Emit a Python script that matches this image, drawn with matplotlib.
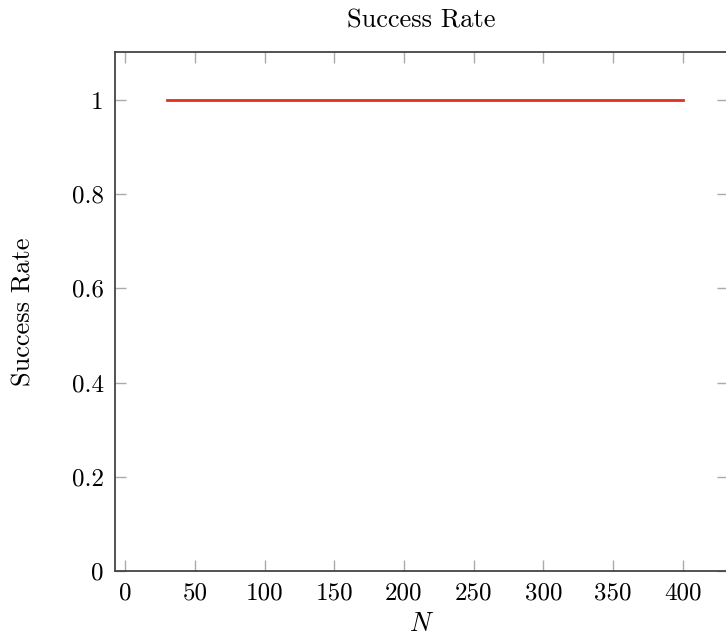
import matplotlib
matplotlib.use("Agg")
import matplotlib.pyplot as plt

N = [30, 50, 100, 150, 200, 250, 300, 350, 400]
success = [1, 1, 1, 1, 1, 1, 1, 1, 1]
xticks = [0, 50, 100, 150, 200, 250, 300, 350, 400]
yticks = [0, 0.2, 0.4, 0.6, 0.8, 1]
ytick_labels = ["0", "0.2", "0.4", "0.6", "0.8", "1"]

plt.rcParams['font.family'] = ['cmr10', 'DejaVu Serif']
plt.rcParams['mathtext.fontset'] = 'cm'
plt.rcParams['axes.formatter.use_mathtext'] = True

fig = plt.figure(figsize=(7.26, 6.4), dpi=100)
ax = fig.add_axes([115/726, 1-571/640, (728-115)/726, (571-52)/640])

ax.plot(N, success, color='#e0301e', lw=2)

ax.set_xlim(-7.2, 432.3)
ax.set_ylim(0, 1.102)
ax.set_xticks(xticks)
ax.set_xticklabels([str(t) for t in xticks])
ax.set_yticks(yticks)
ax.set_yticklabels(ytick_labels)

ax.tick_params(direction='in', length=8, width=1, color='#aaaaaa',
               top=True, right=True, labelsize=18, pad=8)
for s in ax.spines.values():
    s.set_color('#444444')
    s.set_linewidth(1.3)

ax.set_title('Success Rate', fontsize=19, pad=18)
ax.set_ylabel('Success Rate', fontsize=19, labelpad=26)
ax.set_xlabel('$N$', fontsize=19, labelpad=6)

fig.savefig('out.png', dpi=100)
